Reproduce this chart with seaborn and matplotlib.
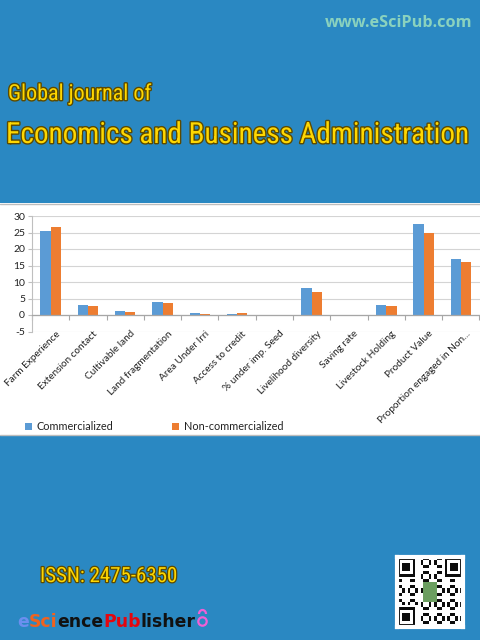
import numpy as np
import pandas as pd
import matplotlib
matplotlib.use('Agg')
import matplotlib.pyplot as plt
import seaborn as sns
from matplotlib import patheffects as pe
from matplotlib.patches import Rectangle, Circle, Arc
from matplotlib.transforms import ScaledTranslation

# ---------------- data ----------------
categories = ["Farm Experience", "Extension contact", "Cultivable land",
              "Land fragmentation", "Area Under Irri", "Access to credit",
              "% under imp. Seed", "Livelihood diversity", "Saving rate",
              "Livestock Holding", "Product Value", "Proportion engaged in Non..."]
commercialized = [25.5, 3.0, 1.2, 3.8, 0.6, 0.4, 0.0, 8.3, 0.0, 3.0, 27.5, 17.0]
non_commercialized = [26.8, 2.6, 0.8, 3.5, 0.3, 0.5, 0.0, 6.9, 0.0, 2.7, 25.0, 16.1]
series_names = ["Commercialized", "Non-commercialized"]
y_ticks = [-5, 0, 5, 10, 15, 20, 25, 30]

site_text = "www.eSciPub.com"
title_line1 = "Global journal of"
title_line2 = "Economics and Business Administration"
issn_text = "ISSN: 2475-6350"
publisher_parts = [("e", "#6B8FEF"), ("Sci", "#F0621E"), ("ence", "#111111"),
                   ("Pub", "#E5060E"), ("lisher", "#111111")]

# ---------------- setup ----------------
sns.set_theme(style="white")
plt.rcParams['font.family'] = ['Lato', 'DejaVu Sans']
plt.rcParams['axes.unicode_minus'] = False

W, H = 480, 640
BG = '#2A88C2'
fig = plt.figure(figsize=(4.8, 6.4), dpi=100, facecolor=BG)
renderer = fig.canvas.get_renderer()


def fx(px):
    return px / W


def fy(py):
    return 1 - py / H


# white chart band
fig.patches.append(Rectangle((0, fy(435)), 1, fy(203) - fy(435), transform=fig.transFigure,
                             facecolor='white', edgecolor='none', zorder=-2))
for yy in (203.5, 435):
    fig.add_artist(plt.Line2D([0, 1], [fy(yy), fy(yy)], transform=fig.transFigure,
                              color='#BDBDBD', lw=1.0, zorder=-1))

# ---------------- chart ----------------
df = pd.DataFrame({
    "category": categories * 2,
    "series": [series_names[0]] * len(categories) + [series_names[1]] * len(categories),
    "value": commercialized + non_commercialized,
})

ax = fig.add_axes([fx(32), fy(331.5), fx(479.5) - fx(32), fy(216) - fy(331.5)])
ax.set_facecolor('none')
sns.barplot(data=df, x="category", y="value", hue="series",
            palette=['#5B9BD5', '#ED7D31'], width=0.55, saturation=1,
            linewidth=0, errorbar=None, ax=ax)
ax.set_xlim(-0.5, len(categories) - 0.5)
ax.set_ylim(-5, 30)
ax.set_yticks(y_ticks)
ax.set_xlabel("")
ax.set_ylabel("")
ax.set_axisbelow(True)
ax.yaxis.grid(True, color='#D4D4D4', lw=0.8)
ax.xaxis.grid(False)
for s in ("top", "right"):
    ax.spines[s].set_visible(False)
ax.spines["left"].set_color('#BFBFBF')
ax.spines["left"].set_linewidth(0.8)
ax.spines["bottom"].set_position(('data', 0))
ax.spines["bottom"].set_color('#A6A6A6')
ax.spines["bottom"].set_linewidth(0.9)

ax.tick_params(axis='y', left=True, length=3, width=0.8, color='#BFBFBF',
               labelsize=7.5, labelcolor='#222222', pad=2)
ax.set_xticks(np.arange(-0.5, len(categories), 1), minor=True)
ax.tick_params(axis='x', which='minor', bottom=True, length=3.6, width=0.8,
               color='#A6A6A6', direction='out')
ax.tick_params(axis='x', which='major', bottom=True, length=0, pad=12.5,
               labelsize=7.2, labelcolor='#222222')
shift = ScaledTranslation(8 / 100, 0, fig.dpi_scale_trans)
for lbl in ax.get_xticklabels():
    lbl.set_rotation(45)
    lbl.set_ha('right')
    lbl.set_va('center')
    lbl.set_rotation_mode('anchor')
    lbl.set_transform(lbl.get_transform() + shift)

sns.move_legend(ax, loc='center left', bbox_to_anchor=(fx(25), fy(427)),
                bbox_transform=fig.transFigure, ncol=2, frameon=False, title=None,
                fontsize=7.8, handlelength=0.68, handleheight=0.68, handletextpad=0.4,
                columnspacing=5.4, borderaxespad=0, borderpad=0, labelcolor='#222222')

# ---------------- cover texts ----------------
NARROW = ['Liberation Sans Narrow', 'DejaVu Sans Condensed', 'Roboto Condensed', 'DejaVu Sans']


def fit_text(s, x0, x1, base, color, family, weight, size0, outline=None, stretch='normal'):
    t = fig.text(fx(x0), fy(base), s, ha='left', va='baseline', color=color,
                 family=family, fontweight=weight, fontsize=size0, fontstretch=stretch)
    w = t.get_window_extent(renderer).width
    t.set_fontsize(size0 * (x1 - x0) / w)
    if outline:
        t.set_path_effects([pe.withStroke(linewidth=outline[0], foreground=outline[1])])
    return t


fit_text(site_text, 325, 472, 27, '#8AD2BE', ['Open Sans', 'DejaVu Sans'], 'bold', 11)
fit_text(title_line1, 8, 151, 100, '#FFD700', NARROW, 'normal', 20, (2.0, '#5C4A00'), 'condensed')
fit_text(title_line2, 6, 470, 143, '#FFD700', NARROW, 'normal', 25, (2.0, '#5C4A00'), 'condensed')
fit_text(issn_text, 40, 177, 582, '#FFD700', NARROW, 'normal', 17, (1.8, '#5C4A00'), 'condensed')

# publisher wordmark
pieces = []
for txt, col in publisher_parts:
    pieces.append(fig.text(0, fy(627), txt, ha='left', va='baseline', color=col,
                           family=['DejaVu Sans'], fontweight='bold', fontsize=12))
total = sum(p.get_window_extent(renderer).width for p in pieces)
scale = (194 - 17) / total
xcur = 17
for p in pieces:
    p.set_fontsize(12 * scale)
    p.set_x(fx(xcur))
    xcur += p.get_window_extent(renderer).width

# open-access lock icon (pink)
inch = fig.dpi_scale_trans
fig.add_artist(Circle((202.5 / 100, (640 - 621.5) / 100), 4.2 / 100, transform=inch,
                      facecolor='none', edgecolor='#F25FD6', lw=1.6))
fig.add_artist(Arc((202.5 / 100, (640 - 614) / 100), 7 / 100, 8 / 100, theta1=0, theta2=180,
                   transform=inch, edgecolor='#F25FD6', lw=1.6))

# QR-like block
qr_ax = fig.add_axes([fx(397), fy(627), fx(463) - fx(397), fy(557) - fy(627)])
n = 25
ii, jj = np.meshgrid(np.arange(n), np.arange(n), indexing='ij')
mod = ((ii * 7 + jj * 11 + ii * jj) % 5 < 2).astype(float)
for (r, c) in [(0, 0), (0, n - 7), (n - 7, 0)]:
    r0, c0 = max(r - 1, 0), max(c - 1, 0)
    mod[r0:r0 + 8, c0:c0 + 8] = 0
    mod[r:r + 7, c:c + 7] = 1
    mod[r + 1:r + 6, c + 1:c + 6] = 0
    mod[r + 2:r + 5, c + 2:c + 5] = 1
rgb = np.ones((n, n, 3))
rgb[mod == 1] = 0.05
rgb[9:16, 10:15] = [0.42, 0.62, 0.38]
qr_ax.imshow(rgb, interpolation='nearest', aspect='auto')
qr_ax.set_xticks([])
qr_ax.set_yticks([])
for s in qr_ax.spines.values():
    s.set_edgecolor('white')
    s.set_linewidth(3)

fig.savefig('out.png', dpi=100, facecolor=BG)
